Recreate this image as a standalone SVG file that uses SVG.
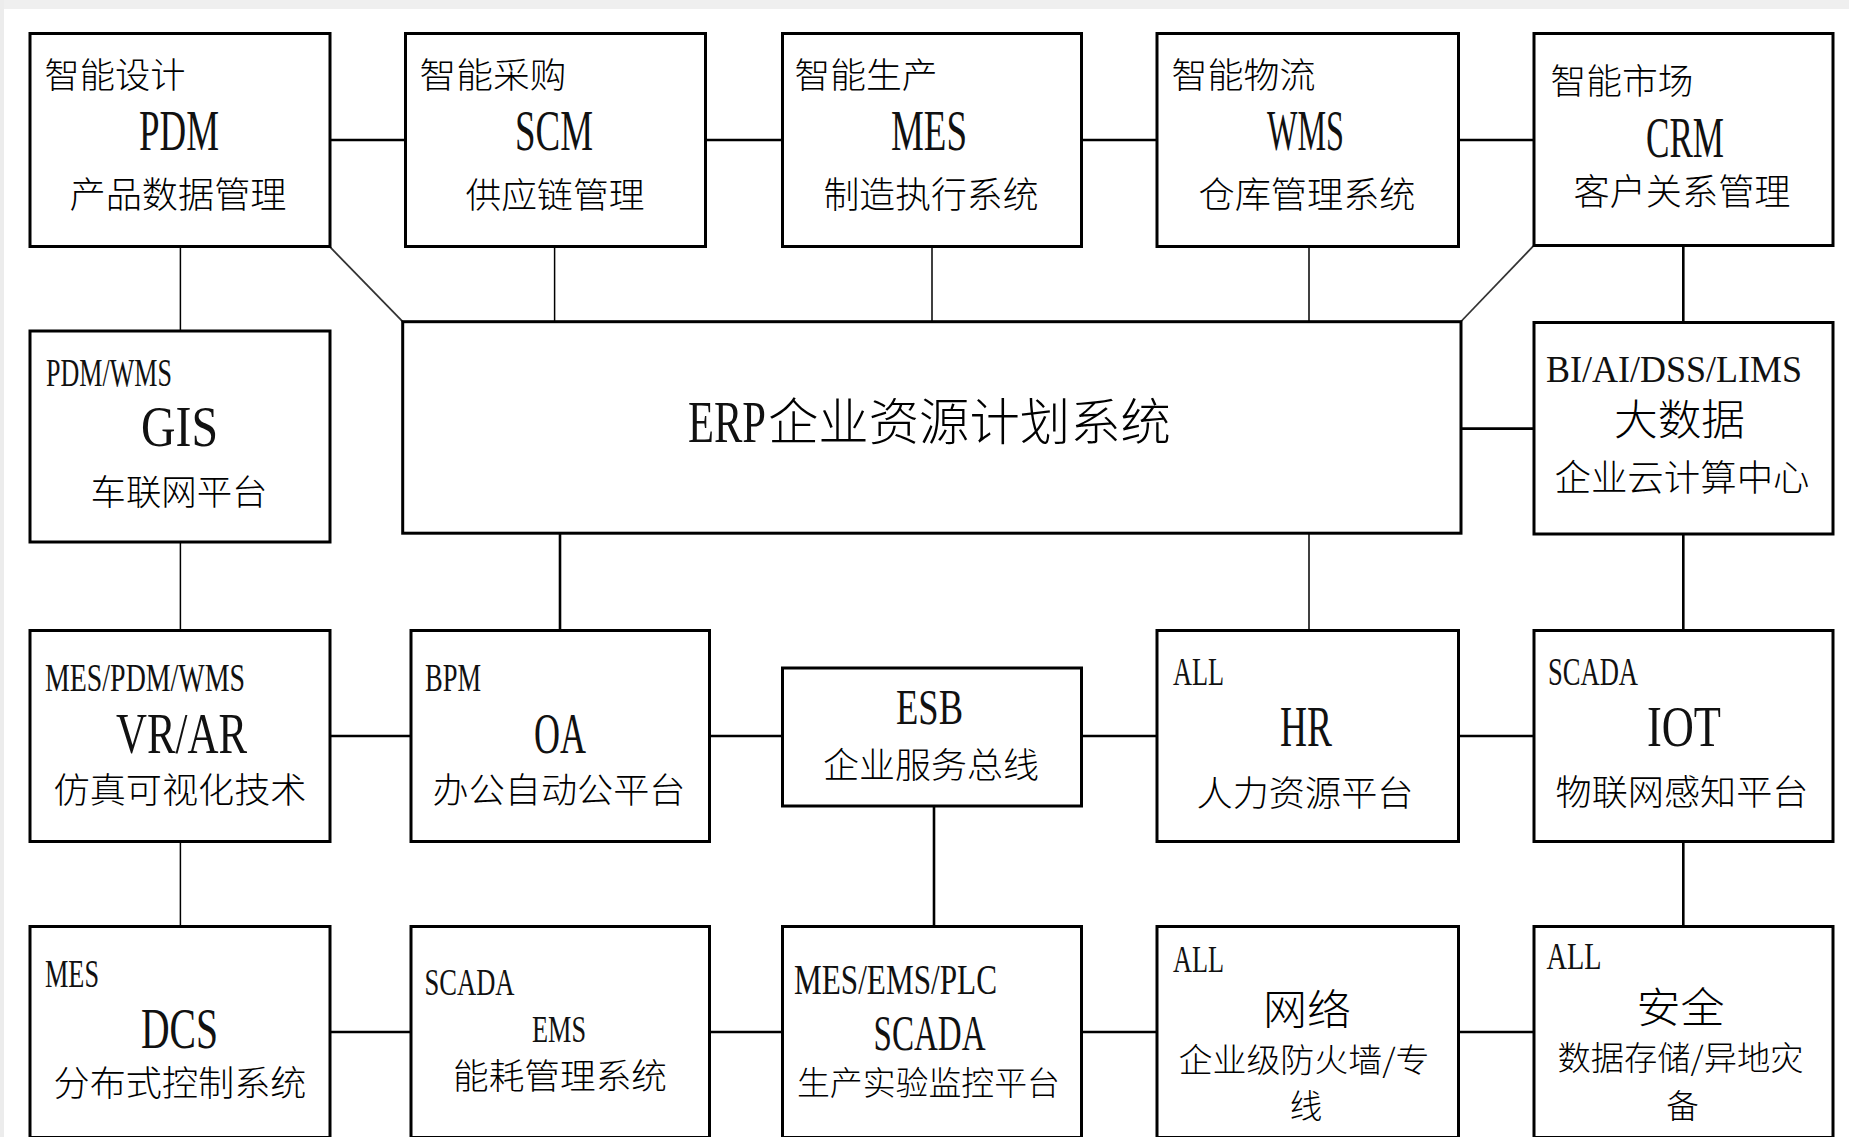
<svg xmlns="http://www.w3.org/2000/svg" width="1849" height="1137" viewBox="0 0 1849 1137">
<style>
.box{fill:#fff;stroke:#000;stroke-width:3}
.cn{font-family:"Noto Sans CJK SC","Noto Sans CJK TC",sans-serif;font-weight:300;fill:#000}
.en{font-family:"Liberation Serif","DejaVu Serif",serif;fill:#111}
.m{text-anchor:middle}
.thin{stroke:#000;stroke-width:1.5;fill:none}
.thick{stroke:#000;stroke-width:2.6;fill:none}
.diag{stroke:#333;stroke-width:1.8;fill:none}
</style>
<rect x="0" y="0" width="1849" height="1137" fill="#fff"/>
<rect x="0" y="0" width="1849" height="9" fill="#efefef"/>
<rect x="0" y="0" width="4" height="1137" fill="#ececec"/>
<g id="connectors">
<line class="thick" x1="330" y1="140" x2="405.5" y2="140"/>
<line class="thick" x1="705.5" y1="140" x2="782.5" y2="140"/>
<line class="thick" x1="1081.5" y1="140" x2="1157" y2="140"/>
<line class="thick" x1="1458.5" y1="140" x2="1534" y2="140"/>
<line class="thin" x1="180.4" y1="246.5" x2="180.4" y2="331"/>
<line class="thin" x1="554.6" y1="246.5" x2="554.6" y2="321.7"/>
<line class="thin" x1="932" y1="246.5" x2="932" y2="321.7"/>
<line class="thin" x1="1309" y1="246.5" x2="1309" y2="321.7"/>
<line class="thick" x1="1683.3" y1="245.5" x2="1683.3" y2="322.5"/>
<line class="diag" x1="329.7" y1="246.7" x2="402.7" y2="321.7"/>
<line class="diag" x1="1533.7" y1="245.7" x2="1461" y2="321.5"/>
<line class="thick" x1="1461" y1="428.6" x2="1534" y2="428.6"/>
<line class="thin" x1="180.4" y1="542" x2="180.4" y2="630.5"/>
<line class="thick" x1="560" y1="533.2" x2="560" y2="630.5"/>
<line class="thin" x1="1309" y1="533.2" x2="1309" y2="630.5"/>
<line class="thick" x1="1683.3" y1="534" x2="1683.3" y2="630.5"/>
<line class="thick" x1="330" y1="736" x2="411" y2="736"/>
<line class="thick" x1="709.5" y1="736" x2="782.5" y2="736"/>
<line class="thick" x1="1081.5" y1="736" x2="1157" y2="736"/>
<line class="thick" x1="1458.5" y1="736" x2="1534" y2="736"/>
<line class="thin" x1="180.4" y1="841.5" x2="180.4" y2="926.5"/>
<line class="thick" x1="934" y1="806" x2="934" y2="926.5"/>
<line class="thick" x1="1683.3" y1="841.5" x2="1683.3" y2="926.5"/>
<line class="thick" x1="330" y1="1032" x2="411" y2="1032"/>
<line class="thick" x1="709.5" y1="1032" x2="782.5" y2="1032"/>
<line class="thick" x1="1081.5" y1="1032" x2="1157" y2="1032"/>
<line class="thick" x1="1458.5" y1="1032" x2="1534" y2="1032"/>
</g>
<g id="n-pdm">
<rect class="box" x="30" y="33.5" width="300" height="213"/>
<text class="cn m" x="115" y="88" font-size="35" textLength="141" lengthAdjust="spacingAndGlyphs">智能设计</text>
<text class="en m" x="179" y="150" font-size="56" textLength="80" lengthAdjust="spacingAndGlyphs">PDM</text>
<text class="cn m" x="178" y="208" font-size="36" textLength="217" lengthAdjust="spacingAndGlyphs">产品数据管理</text>
</g>
<g id="n-scm">
<rect class="box" x="405.5" y="33.5" width="300" height="213"/>
<text class="cn m" x="493" y="88" font-size="35" textLength="147" lengthAdjust="spacingAndGlyphs">智能采购</text>
<text class="en m" x="554" y="150" font-size="56" textLength="78" lengthAdjust="spacingAndGlyphs">SCM</text>
<text class="cn m" x="555" y="208" font-size="35" textLength="179" lengthAdjust="spacingAndGlyphs">供应链管理</text>
</g>
<g id="n-mes">
<rect class="box" x="782.5" y="33.5" width="299" height="213"/>
<text class="cn m" x="866" y="88" font-size="35" textLength="143" lengthAdjust="spacingAndGlyphs">智能生产</text>
<text class="en m" x="929" y="150" font-size="56" textLength="76" lengthAdjust="spacingAndGlyphs">MES</text>
<text class="cn m" x="931" y="208" font-size="36" textLength="215" lengthAdjust="spacingAndGlyphs">制造执行系统</text>
</g>
<g id="n-wms">
<rect class="box" x="1157" y="33.5" width="301.5" height="213"/>
<text class="cn m" x="1243.5" y="88" font-size="35" textLength="144" lengthAdjust="spacingAndGlyphs">智能物流</text>
<text class="en m" x="1305.5" y="150" font-size="56" textLength="77" lengthAdjust="spacingAndGlyphs">WMS</text>
<text class="cn m" x="1307" y="208" font-size="36" textLength="217" lengthAdjust="spacingAndGlyphs">仓库管理系统</text>
</g>
<g id="n-crm">
<rect class="box" x="1534" y="33.5" width="299" height="212"/>
<text class="cn m" x="1622" y="94" font-size="35" textLength="143" lengthAdjust="spacingAndGlyphs">智能市场</text>
<text class="en m" x="1685" y="157" font-size="56" textLength="78" lengthAdjust="spacingAndGlyphs">CRM</text>
<text class="cn m" x="1682" y="205" font-size="36" textLength="217" lengthAdjust="spacingAndGlyphs">客户关系管理</text>
</g>
<g id="n-gis">
<rect class="box" x="30" y="331" width="300" height="211"/>
<text class="en" x="46" y="386" font-size="40" textLength="126" lengthAdjust="spacingAndGlyphs">PDM/WMS</text>
<text class="en m" x="179.5" y="446" font-size="56" textLength="77" lengthAdjust="spacingAndGlyphs">GIS</text>
<text class="cn m" x="179" y="505" font-size="35" textLength="177" lengthAdjust="spacingAndGlyphs">车联网平台</text>
</g>
<g id="n-erp">
<rect class="box" x="402.7" y="321.7" width="1058.3" height="211.5"/>
<text x="688" y="442"><tspan class="en" font-size="60" textLength="78" lengthAdjust="spacingAndGlyphs">ERP</tspan><tspan class="cn" x="768" y="440" font-size="50" textLength="403" lengthAdjust="spacingAndGlyphs">企业资源计划系统</tspan></text>
</g>
<g id="n-bi">
<rect class="box" x="1534" y="322.5" width="299" height="211.5"/>
<text class="en" x="1546" y="382" font-size="38" textLength="256" lengthAdjust="spacingAndGlyphs">BI/AI/DSS/LIMS</text>
<text class="cn m" x="1679.5" y="435" font-size="42" textLength="131" lengthAdjust="spacingAndGlyphs">大数据</text>
<text class="cn m" x="1682" y="491" font-size="36" textLength="255" lengthAdjust="spacingAndGlyphs">企业云计算中心</text>
</g>
<g id="n-vr">
<rect class="box" x="30" y="630.5" width="300" height="211"/>
<text class="en" x="45" y="691" font-size="40" textLength="200" lengthAdjust="spacingAndGlyphs">MES/PDM/WMS</text>
<text class="en m" x="181.5" y="753" font-size="58" textLength="131" lengthAdjust="spacingAndGlyphs">VR/AR</text>
<text class="cn m" x="180" y="803" font-size="35" textLength="253" lengthAdjust="spacingAndGlyphs">仿真可视化技术</text>
</g>
<g id="n-oa">
<rect class="box" x="411" y="630.5" width="298.5" height="211"/>
<text class="en" x="425" y="691" font-size="40" textLength="56" lengthAdjust="spacingAndGlyphs">BPM</text>
<text class="en m" x="560" y="753" font-size="58" textLength="52" lengthAdjust="spacingAndGlyphs">OA</text>
<text class="cn m" x="559" y="803" font-size="35" textLength="253" lengthAdjust="spacingAndGlyphs">办公自动公平台</text>
</g>
<g id="n-esb">
<rect class="box" x="782.5" y="668" width="299" height="138"/>
<text class="en m" x="929.5" y="724" font-size="50" textLength="67" lengthAdjust="spacingAndGlyphs">ESB</text>
<text class="cn m" x="931" y="777.5" font-size="35" textLength="216" lengthAdjust="spacingAndGlyphs">企业服务总线</text>
</g>
<g id="n-hr">
<rect class="box" x="1157" y="630.5" width="301.5" height="211"/>
<text class="en" x="1173" y="684.5" font-size="40" textLength="51" lengthAdjust="spacingAndGlyphs">ALL</text>
<text class="en m" x="1306" y="746" font-size="58" textLength="52" lengthAdjust="spacingAndGlyphs">HR</text>
<text class="cn m" x="1305" y="805.5" font-size="35" textLength="217" lengthAdjust="spacingAndGlyphs">人力资源平台</text>
</g>
<g id="n-iot">
<rect class="box" x="1534" y="630.5" width="299" height="211"/>
<text class="en" x="1548" y="685" font-size="40" textLength="90" lengthAdjust="spacingAndGlyphs">SCADA</text>
<text class="en m" x="1684" y="746" font-size="58" textLength="74" lengthAdjust="spacingAndGlyphs">IOT</text>
<text class="cn m" x="1682" y="805" font-size="35" textLength="253" lengthAdjust="spacingAndGlyphs">物联网感知平台</text>
</g>
<g id="n-dcs">
<rect class="box" x="30" y="926.5" width="300" height="211"/>
<text class="en" x="45" y="987" font-size="40" textLength="54" lengthAdjust="spacingAndGlyphs">MES</text>
<text class="en m" x="179.5" y="1048" font-size="58" textLength="77" lengthAdjust="spacingAndGlyphs">DCS</text>
<text class="cn m" x="180" y="1096" font-size="35" textLength="253" lengthAdjust="spacingAndGlyphs">分布式控制系统</text>
</g>
<g id="n-ems">
<rect class="box" x="411" y="926.5" width="298.5" height="211"/>
<text class="en" x="424.5" y="995" font-size="38" textLength="90" lengthAdjust="spacingAndGlyphs">SCADA</text>
<text class="en m" x="559" y="1042" font-size="38" textLength="54" lengthAdjust="spacingAndGlyphs">EMS</text>
<text class="cn m" x="560" y="1089" font-size="35" textLength="214" lengthAdjust="spacingAndGlyphs">能耗管理系统</text>
</g>
<g id="n-scada">
<rect class="box" x="782.5" y="926.5" width="299" height="211"/>
<text class="en" x="794" y="993.5" font-size="42" textLength="203" lengthAdjust="spacingAndGlyphs">MES/EMS/PLC</text>
<text class="en m" x="929.6" y="1049.5" font-size="50" textLength="112" lengthAdjust="spacingAndGlyphs">SCADA</text>
<text class="cn m" x="928.4" y="1094.5" font-size="32.5" textLength="263" lengthAdjust="spacingAndGlyphs">生产实验监控平台</text>
</g>
<g id="n-net">
<rect class="box" x="1157" y="926.5" width="301.5" height="211"/>
<text class="en" x="1173" y="972" font-size="38" textLength="51" lengthAdjust="spacingAndGlyphs">ALL</text>
<text class="cn m" x="1307" y="1024.5" font-size="42.5" textLength="88" lengthAdjust="spacingAndGlyphs">网络</text>
<text class="cn m" font-size="32.5"><tspan x="1304" y="1072" textLength="251" lengthAdjust="spacingAndGlyphs">企业级防火墙/专</tspan><tspan x="1306" y="1118">线</tspan></text>
</g>
<g id="n-sec">
<rect class="box" x="1534" y="926.5" width="299" height="211"/>
<text class="en" x="1546.5" y="968.5" font-size="38" textLength="55" lengthAdjust="spacingAndGlyphs">ALL</text>
<text class="cn m" x="1680.5" y="1022.5" font-size="42.5" textLength="88" lengthAdjust="spacingAndGlyphs">安全</text>
<text class="cn m" font-size="32.5"><tspan x="1680.5" y="1069.5" textLength="246" lengthAdjust="spacingAndGlyphs">数据存储/异地灾</tspan><tspan x="1682.5" y="1118">备</tspan></text>
</g>
</svg>
